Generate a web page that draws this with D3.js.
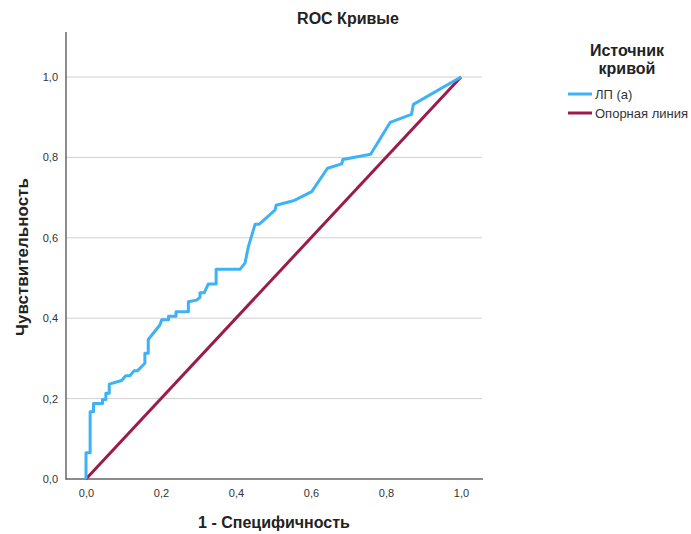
<!DOCTYPE html>
<html><head><meta charset="utf-8">
<script src="https://cdn.jsdelivr.net/npm/d3@7"></script>
<style>body{margin:0;background:#fff;}svg{display:block;font-family:"Liberation Sans",Arial,sans-serif;}</style>
</head><body><svg id="c" width="691" height="534"></svg>
<script>
const rocFPR = [0,0,0.011,0.011,0.02,0.02,0.044,0.044,0.053,0.053,0.062,0.062,0.095,0.106,0.117,0.128,0.137,0.157,0.157,0.166,0.166,0.197,0.202,0.22,0.22,0.24,0.24,0.273,0.273,0.295,0.304,0.304,0.315,0.326,0.347,0.347,0.411,0.424,0.433,0.451,0.462,0.504,0.507,0.553,0.602,0.644,0.682,0.685,0.759,0.811,0.868,0.873,1];
const rocTPR = [0,0.065,0.065,0.167,0.167,0.188,0.188,0.198,0.198,0.213,0.213,0.236,0.245,0.257,0.257,0.269,0.269,0.288,0.313,0.313,0.347,0.383,0.396,0.396,0.405,0.405,0.416,0.416,0.441,0.445,0.452,0.463,0.463,0.485,0.485,0.522,0.522,0.537,0.578,0.634,0.634,0.669,0.681,0.692,0.715,0.773,0.784,0.795,0.808,0.887,0.907,0.932,1];
const refX = [0,1];
const refY = [0,1];
const tickVals = [0,0.2,0.4,0.6,0.8,1.0];
const legendLabels = ["ЛП (a)","Опорная линия"];
const colors = ["#3db2f7","#9b1c4c"];

const svg = d3.select("#c");
const x = d3.scaleLinear().domain([0,1]).range([86,461]);
const y = d3.scaleLinear().domain([0,1]).range([479,77]);
const fmt = d => d3.format(".1f")(d).replace(".", ",");

svg.append("g").selectAll("line").data(tickVals.slice(1)).join("line")
  .attr("x1",66).attr("x2",482).attr("y1",d=>y(d)).attr("y2",d=>y(d))
  .attr("stroke","#cfcfcf").attr("stroke-width",1);

const yAxis = d3.axisLeft(y).tickValues(tickVals).tickFormat(fmt).tickSize(0).tickPadding(8);
const gy = svg.append("g").attr("transform","translate(66,0)").call(yAxis);
gy.select(".domain").remove();
const xAxis = d3.axisBottom(x).tickValues(tickVals).tickFormat(fmt).tickSize(0).tickPadding(10);
const gx = svg.append("g").attr("transform","translate(0,479)").call(xAxis);
gx.select(".domain").remove();
svg.selectAll(".tick text").attr("font-size",11).attr("fill","#333").attr("font-family","\"Liberation Sans\",Arial,sans-serif");
svg.append("line").attr("x1",66).attr("x2",66).attr("y1",32).attr("y2",479.5).attr("stroke","#666").attr("stroke-width",1.5);
svg.append("line").attr("x1",65.5).attr("x2",483).attr("y1",479).attr("y2",479).attr("stroke","#666").attr("stroke-width",1.5);

const line = d3.line().x(d=>x(d[0])).y(d=>y(d[1]));
svg.append("path").datum(refX.map((v,i)=>[v,refY[i]])).attr("d",line)
  .attr("fill","none").attr("stroke",colors[1]).attr("stroke-width",3);
svg.append("path").datum(rocFPR.map((v,i)=>[v,rocTPR[i]])).attr("d",line)
  .attr("fill","none").attr("stroke",colors[0]).attr("stroke-width",3).attr("stroke-linejoin","round");

svg.append("text").attr("x",348).attr("y",24).attr("text-anchor","middle")
  .attr("font-size",16).attr("font-weight","bold").attr("fill","#222").text("ROC Кривые");
svg.append("text").attr("x",274).attr("y",528).attr("text-anchor","middle")
  .attr("font-size",16).attr("font-weight","bold").attr("fill","#222").text("1 - Специфичность");
svg.append("text").attr("transform","translate(28,257) rotate(-90)").attr("text-anchor","middle")
  .attr("font-size",17).attr("font-weight","bold").attr("fill","#222").text("Чувствительность");

svg.append("text").attr("x",627).attr("y",56).attr("text-anchor","middle")
  .attr("font-size",16).attr("font-weight","bold").attr("fill","#222").text("Источник");
svg.append("text").attr("x",627).attr("y",74).attr("text-anchor","middle")
  .attr("font-size",16).attr("font-weight","bold").attr("fill","#222").text("кривой");
const lg = svg.append("g").selectAll("g").data(legendLabels).join("g")
  .attr("transform",(d,i)=>`translate(568,${94+i*19})`);
lg.append("line").attr("x1",0).attr("x2",24).attr("y1",0).attr("y2",0)
  .attr("stroke",(d,i)=>colors[i]).attr("stroke-width",3);
lg.append("text").attr("x",27).attr("y",4.5).attr("font-size",13).attr("fill","#333").text(d=>d);
</script></body></html>
